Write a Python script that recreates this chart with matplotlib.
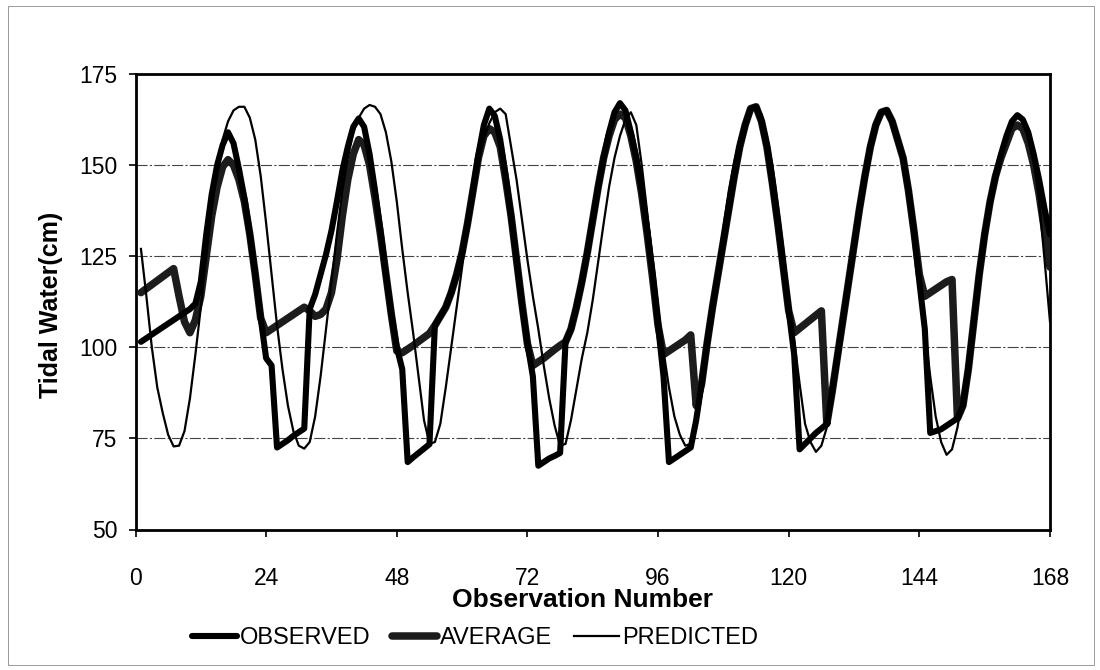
import numpy as np
import matplotlib
matplotlib.use("Agg")
import matplotlib.pyplot as plt
from matplotlib.patches import Rectangle

plt.rcParams['font.family'] = ['Liberation Sans', 'DejaVu Sans']

hours = list(range(1, 169))

observed = [
    101.5, 102.5, 103.5, 104.5, 105.5, 106.5, 107.5, 108.5, 109.5, 110.5,   # 1-10
    112, 118, 131, 142, 150, 155.5, 159, 156, 149, 141,                    # 11-20
    131, 120, 108, 97, 95, 72.5, 73.5, 74.5, 75.7, 76.7,                   # 21-30
    77.7, 110.5, 114.5, 120, 125.5, 132, 140, 148.5, 155, 160.5,           # 31-40
    162.8, 160.5, 153, 143, 132, 120, 109, 100, 94, 68.5,                  # 41-50
    69.8, 71, 72.2, 73.4, 106, 108.5, 111, 115, 120, 126,                  # 51-60
    134, 143, 153, 161, 165.5, 163.5, 157, 147, 136, 124,                  # 61-70
    112, 101, 92, 67.5, 68.5, 69.5, 70.2, 71, 101.5, 105,                  # 71-80
    111, 118, 126, 135, 144, 152, 159, 164.5, 167, 165,                    # 81-90
    159, 152, 143, 132, 120, 106, 92, 68.5, 69.5, 70.5,                    # 91-100
    71.5, 72.5, 80, 90, 101, 111, 120, 129, 138, 147,                      # 101-110
    155, 161, 165.5, 166, 162, 155, 145, 134, 122, 110,                    # 111-120
    98, 72, 73.5, 75, 76.5, 77.7, 79, 88, 98, 108,                         # 121-130
    118, 128, 138, 147, 155, 161, 164.5, 165, 162, 157,                    # 131-140
    152, 143, 132, 118, 105, 76.5, 77, 77.5, 78.5, 79.5,                   # 141-150
    80.5, 84, 94, 107, 120, 131, 140, 147, 153, 158,                       # 151-160
    162, 163.7, 162.5, 159, 153, 146, 138, 131,                            # 161-168
]

average = [
    115, 116.1, 117.2, 118.3, 119.4, 120.5, 121.6, 114, 107, 104,          # 1-10
    107.5, 114, 125, 136, 144, 149.5, 151.5, 150, 146, 140,                # 11-20
    131, 120, 108, 104, 105, 106, 107, 108, 109, 110,                      # 21-30
    111, 110, 108.5, 109, 110.5, 115, 124, 136, 146, 153,                  # 31-40
    157, 155.5, 150, 141, 131, 120, 109, 99, 98.5, 99.5,                   # 41-50
    100.5, 101.6, 102.7, 103.8, 106, 108.5, 111, 115, 120, 126,            # 51-60
    134, 143, 152, 158, 160, 159, 155, 146, 136, 124,                      # 61-70
    112, 101, 95, 96, 97, 98.2, 99.4, 100.5, 101.5, 105,                   # 71-80
    111, 118, 126, 135, 144, 152, 158, 162.5, 164, 163,                    # 81-90
    158, 151, 142, 131, 119, 106, 98, 99, 100, 101,                        # 91-100
    102, 103.4, 84, 90, 101, 111, 120, 129, 138, 147,                      # 101-110
    155, 161, 165.5, 166, 162, 155, 145, 134, 122, 110,                    # 111-120
    104, 105.2, 106.4, 107.6, 108.8, 110, 79, 88, 98, 108,                 # 121-130
    118, 128, 138, 147, 155, 161, 164.5, 165, 162, 157,                    # 131-140
    152, 143, 132, 120, 114, 115, 116, 117, 118, 118.6,                    # 141-150
    80.5, 84, 94, 107, 120, 131, 140, 147, 152, 156,                       # 151-160
    160, 161, 160, 156, 150, 142, 132, 122,                                # 161-168
]

predicted = [
    127, 114, 100, 89, 82, 76, 72.8, 73, 77, 86,                           # 1-10
    98, 111, 125, 138, 149, 157, 162, 165, 166, 166,                       # 11-20
    163, 157, 147, 134, 120, 106, 94, 84, 77, 73,                          # 21-30
    72.2, 74, 81, 92, 105, 118, 131, 143, 152, 159,                        # 31-40
    163, 165.5, 166.5, 166, 164, 159, 151, 140, 127, 115,                  # 41-50
    104, 92, 80, 73.5, 74, 79, 89, 100, 111, 122,                          # 51-60
    133, 143, 151, 157, 161.5, 164.5, 165.5, 164, 155, 146,                # 61-70
    135, 124, 114, 105, 95, 86, 78.5, 73, 73.5, 80,                        # 71-80
    88.5, 97, 104, 113, 123.5, 134, 144, 152, 158, 162.5,                  # 81-90
    164.5, 161, 150, 137, 124, 111, 99, 89, 81, 76,                        # 91-100
    73, 73.5, 78, 87, 98, 110, 122, 133, 143, 151,                         # 101-110
    157.5, 162, 165, 166, 164, 158, 150, 139, 127, 114,                    # 111-120
    102, 90, 79, 74, 71.3, 73, 78, 87, 98, 109,                            # 121-130
    120, 130, 140, 149, 156, 161, 164, 165, 163, 158,                      # 131-140
    151, 142, 131, 118, 105, 92, 81, 74, 70.5, 72,                         # 141-150
    78, 87, 98, 110, 121, 131, 140, 148, 154, 159,                         # 151-160
    162.5, 164, 163, 159, 152, 140, 124, 107,                              # 161-168
]

x_ticks = [0, 24, 48, 72, 96, 120, 144, 168]
y_ticks = [50, 75, 100, 125, 150, 175]

W, H = 1100, 670
fig = plt.figure(figsize=(W / 100, H / 100), dpi=100)
fig.patch.set_facecolor('white')

left, right, top, bottom = 135.5, 1050, 74, 529.5
ax = fig.add_axes([left / W, 1 - bottom / H, (right - left) / W, (bottom - top) / H])

ax.set_xlim(0, 168)
ax.set_ylim(50, 175)
ax.set_xticks(x_ticks)
ax.set_yticks(y_ticks)

for yv in [75, 100, 125, 150]:
    ax.axhline(yv, color='#444444', lw=0.8, ls=(0, (10, 2, 2, 2)), zorder=1)

l_avg, = ax.plot(hours, average, color='#1c1c1c', lw=5.4, solid_joinstyle='round',
                 solid_capstyle='round', zorder=3, label='AVERAGE')
l_obs, = ax.plot(hours, observed, color='black', lw=4.4, solid_joinstyle='round',
                 solid_capstyle='round', zorder=4, label='OBSERVED')
l_pre, = ax.plot(hours, predicted, color='black', lw=1.6, zorder=5, label='PREDICTED')

for s in ax.spines.values():
    s.set_linewidth(2.0)
    s.set_color('black')

ax.tick_params(axis='both', direction='out', length=5, width=1.2, labelsize=16.5, colors='black')
ax.tick_params(axis='x', pad=22)
ax.tick_params(axis='y', pad=8)

fig.text(582 / W, 1 - 600 / H, 'Observation Number', ha='center', va='center',
         fontsize=19, fontweight='bold')
fig.text(51 / W, 1 - 305 / H, 'Tidal Water(cm)', ha='center', va='center',
         rotation=90, fontsize=18, fontweight='bold')

ax.legend([l_obs, l_avg, l_pre], ['OBSERVED', 'AVERAGE', 'PREDICTED'],
          loc='center', bbox_to_anchor=(475 / W, 1 - 638 / H), bbox_transform=fig.transFigure,
          ncol=3, frameon=False, fontsize=17, handlelength=1.9, handletextpad=0.15,
          columnspacing=0.9, borderaxespad=0, borderpad=0)

fig.add_artist(Rectangle((8 / W, 5 / H), (1094 - 8) / W, (664 - 5) / H,
                         transform=fig.transFigure, fill=False, lw=0.7, ec='#999999'))

fig.savefig('out.png', dpi=100)
